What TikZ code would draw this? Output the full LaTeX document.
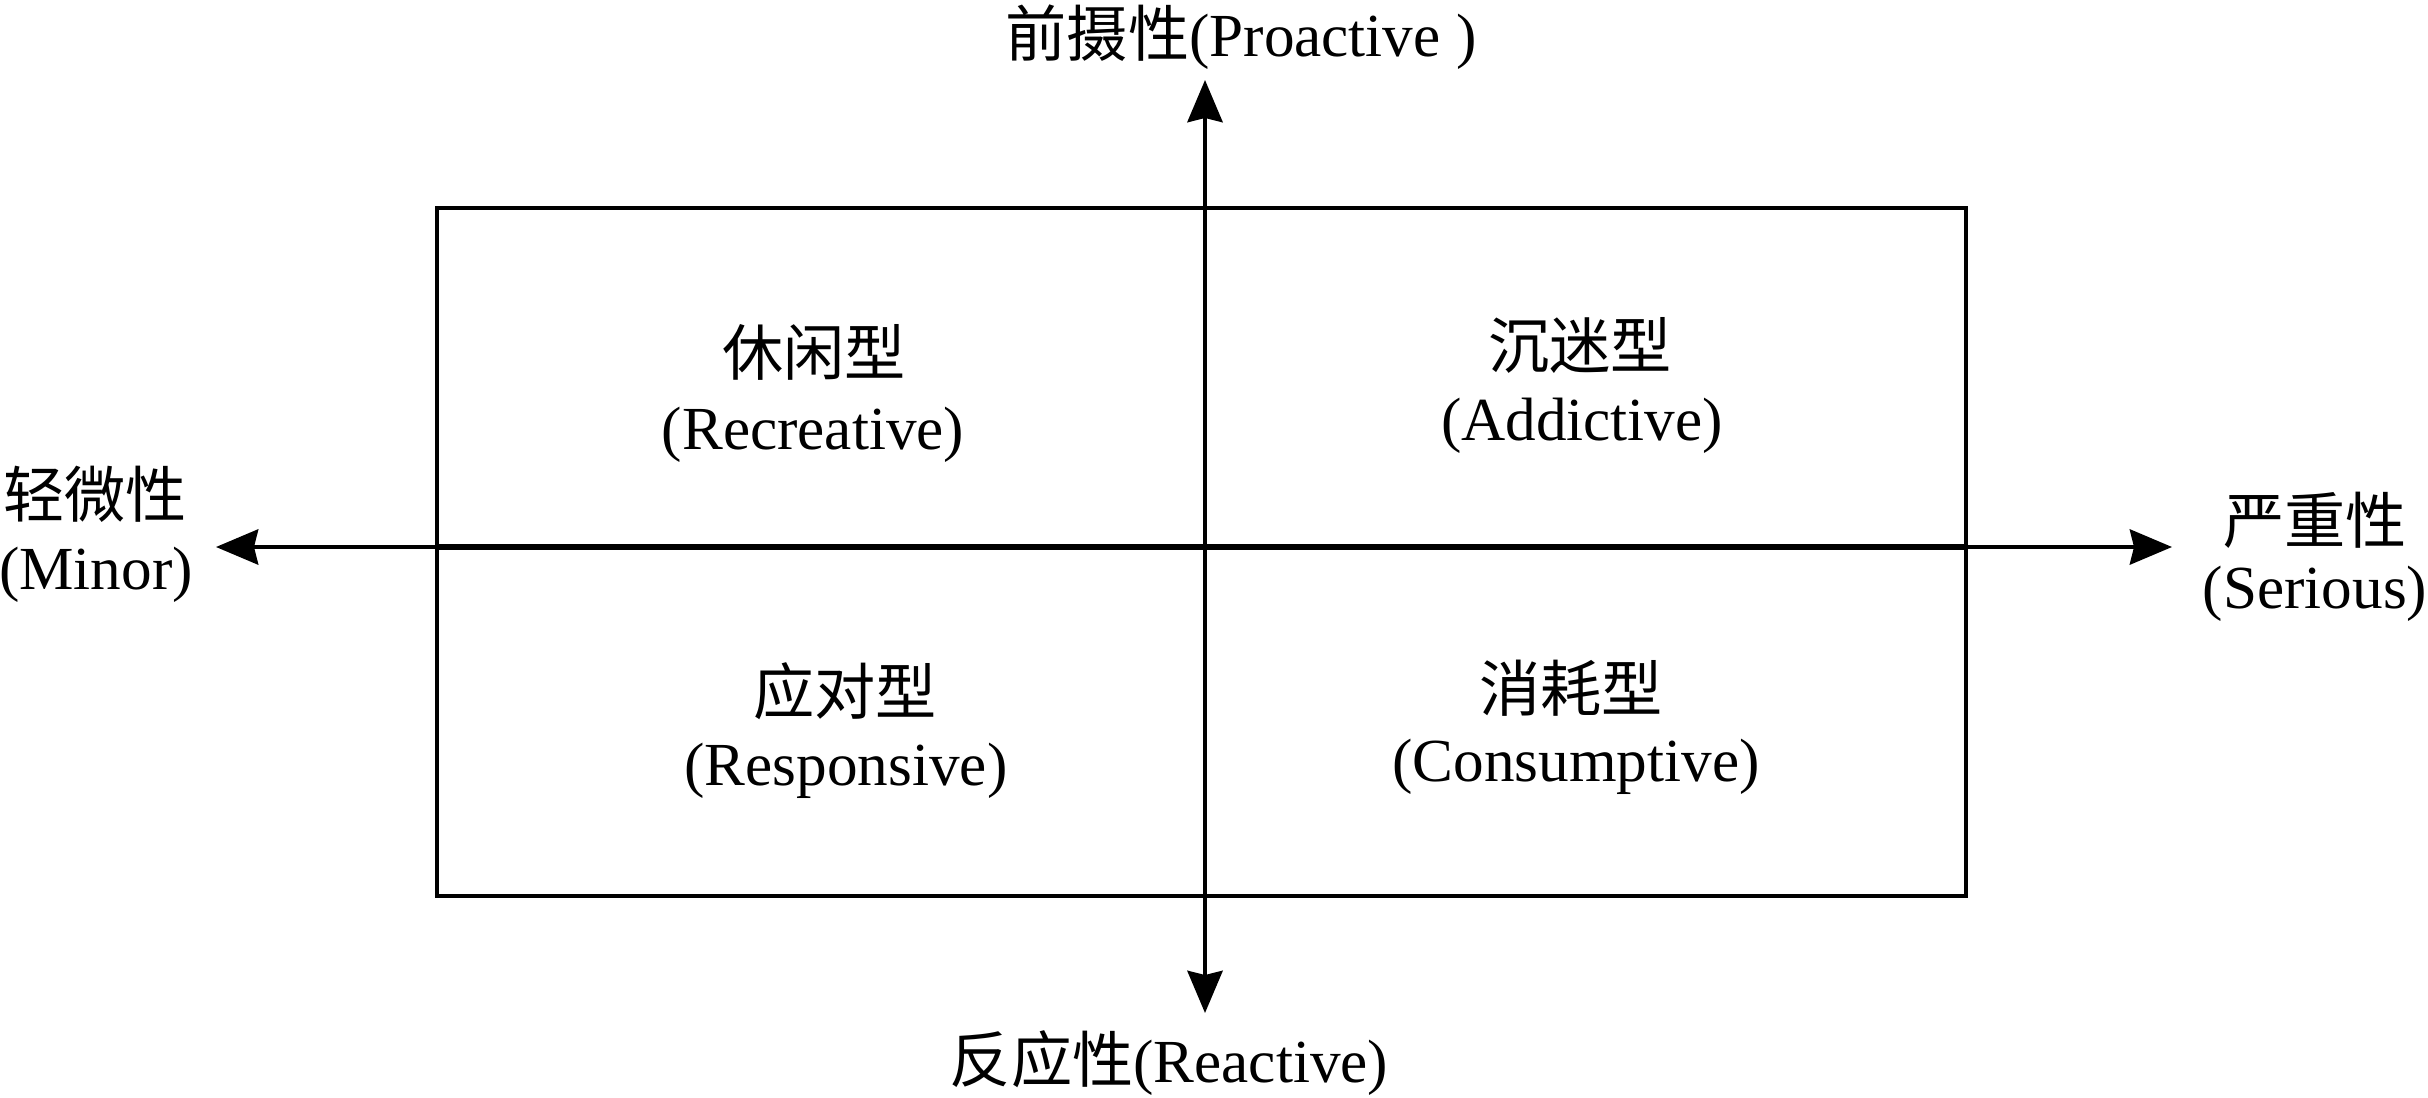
\documentclass[tikz,border=0pt]{standalone}
\usepackage{fontspec}
\setmainfont{Liberation Serif}
\newfontfamily\cjk{Noto Sans CJK SC}
\usetikzlibrary{arrows.meta}
\begin{document}
\begin{tikzpicture}[x=0.01cm,y=-0.01cm,
  txt/.style={inner sep=0pt, font=\fontsize{17.4}{21}\selectfont},
  boxline/.style={line width=1.05pt},
  axisline/.style={line width=1.15pt,
    {Stealth[length=12pt,width=10pt,inset=1.2pt]}-{Stealth[length=12pt,width=10pt,inset=1.2pt]}},
  midline/.style={line width=1.9pt}]
\useasboundingbox (0,0) rectangle (2428,1097);

% frame corners and axis end points
\coordinate (NW) at (437,207.7);
\coordinate (SE) at (1966,895.7);
\coordinate (W) at (437,547);
\coordinate (E) at (1966,547);
\coordinate (tipL) at (216,547);
\coordinate (tipR) at (2172,547);
\coordinate (tipU) at (1205,80);
\coordinate (tipD) at (1205,1013);

% frame
\draw[boxline] (NW) rectangle (SE);
% axes
\draw[axisline] (tipL) -- (tipR);
\draw[midline] (W) -- (E);
\draw[axisline] (tipD) -- (tipU);

% axis labels
\node[txt, anchor=base] (pro) at (1241,57) {{\cjk 前摄性}(Proactive\ )};
\node[txt, anchor=base] (rea) at (1169,1082) {{\cjk 反应性}(Reactive)};
\node[txt] (minA) at (95,494) {\cjk 轻微性};
\node[txt] (minB) at (96,575) {(Minor)};
\node[txt] (serA) at (2315,520) {\cjk 严重性};
\node[txt] (serB) at (2315,594) {(Serious)};

% quadrant labels
\node[txt] (q1a) at (814,352) {\cjk 休闲型};
\node[txt] (q1b) at (813,435) {(Recreative)};
\node[txt] (q2a) at (1580,345) {\cjk 沉迷型};
\node[txt] (q2b) at (1582,426) {(Addictive)};
\node[txt] (q3a) at (845,691) {\cjk 应对型};
\node[txt] (q3b) at (846,771) {(Responsive)};
\node[txt] (q4a) at (1571,688) {\cjk 消耗型};
\node[txt] (q4b) at (1576,767) {(Consumptive)};
\end{tikzpicture}
\end{document}
